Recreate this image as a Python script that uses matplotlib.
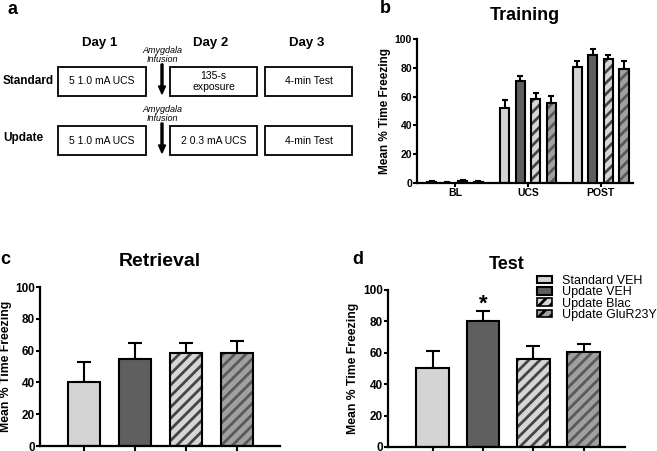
import matplotlib
matplotlib.use("Agg")
from matplotlib import pyplot as plt
from matplotlib.patches import Rectangle, FancyArrow
import numpy as np

plt.rcParams['font.family'] = ['Liberation Sans', 'DejaVu Sans']
plt.rcParams['hatch.linewidth'] = 2.0

groups = ['Standard VEH', 'Update VEH', 'Update Blac', 'Update GluR23Y']
faces = ['#d4d4d4', '#5f5f5f', '#d6d6d6', '#a0a0a0']
hatch_colors = [None, None, '#454545', '#595959']

phases = ['BL', 'UCS', 'POST']
train_mean = [[1.0, 52, 80.8],
              [0.3, 70.8, 88.9],
              [1.3, 58.1, 86.1],
              [0.8, 55.8, 79.4]]
train_err = [[0.6, 5.7, 3.9],
             [0.2, 3.7, 3.9],
             [0.7, 4.2, 2.8],
             [0.4, 4.8, 5.5]]

retrieval_mean = [40.4, 54.5, 58.7, 58.7]
retrieval_err = [12.6, 10.1, 6.3, 7.3]

test_mean = [50.1, 80.3, 56.1, 60.3]
test_err = [11.0, 6.3, 8.4, 5.3]

W, H = 657, 451
fig = plt.figure(figsize=(W / 100, H / 100), dpi=100)


def draw_bars(ax, x, vals, errs, i, width, capsize):
    ax.errorbar(x, vals, yerr=[np.zeros(len(vals)), errs], fmt='none',
                ecolor='black', elinewidth=1.5, capsize=capsize,
                capthick=1.5, zorder=1)
    if hatch_colors[i] is None:
        ax.bar(x, vals, width, color=faces[i], edgecolor='black',
               linewidth=1.5, zorder=2, label=groups[i])
    else:
        ax.bar(x, vals, width, color=faces[i], edgecolor=hatch_colors[i],
               hatch='///', linewidth=0, zorder=2)
        ax.bar(x, vals, width, fill=False, edgecolor='black',
               linewidth=1.5, zorder=3)
        # legend proxy
        ax.bar([np.nan], [np.nan], width, color=faces[i],
               edgecolor='black', hatch='///', linewidth=1.2,
               label=groups[i])


def style(ax, tick_size, label_size, labelpad):
    for s in ['top', 'right']:
        ax.spines[s].set_visible(False)
    for s in ['left', 'bottom']:
        ax.spines[s].set_linewidth(1.6)
    ax.set_ylim(0, 100)
    ax.set_yticks([0, 20, 40, 60, 80, 100])
    ax.tick_params(width=1.5, length=3, labelsize=tick_size, pad=0.8)
    for t in ax.get_yticklabels() + ax.get_xticklabels():
        t.set_fontweight('bold')
    ax.set_ylabel('Mean % Time Freezing', fontsize=label_size,
                  fontweight='bold', labelpad=labelpad)


# panel a: schematic
axa = fig.add_axes([0, 0, 1, 1], zorder=0)
axa.set_xlim(0, W)
axa.set_ylim(H, 0)
axa.axis('off')
axa.text(13, 9, 'a', fontsize=13, fontweight='bold', ha='center', va='center')
for x, lab in [(100, 'Day 1'), (211, 'Day 2'), (307, 'Day 3')]:
    axa.text(x, 43, lab, fontsize=9.5, fontweight='bold', ha='center', va='center')
axa.text(3, 81, 'Standard', fontsize=8.5, fontweight='bold', va='center')
axa.text(3, 138, 'Update', fontsize=8.5, fontweight='bold', va='center')
rows = [(67, ['5 1.0 mA UCS', '135-s\nexposure', '4-min Test']),
        (126, ['5 1.0 mA UCS', '2 0.3 mA UCS', '4-min Test'])]
for y0, labels in rows:
    for (x0, x1), lab in zip([(58, 146), (170, 257), (265, 352)], labels):
        axa.add_patch(Rectangle((x0, y0), x1 - x0, 29, fill=False,
                                edgecolor='black', linewidth=1.3))
        axa.text((x0 + x1) / 2, y0 + 14.5, lab, fontsize=7.5, ha='center',
                 va='center', linespacing=1.1)
    axa.text(162, y0 - 12, 'Amygdala\nInfusion', fontsize=6.5, style='italic',
             ha='center', va='center', linespacing=1.0)
    axa.add_patch(FancyArrow(162, y0 - 3, 0, 30, width=2, head_width=7,
                             head_length=8, length_includes_head=True,
                             color='black'))

# panel b: training
axb = fig.add_axes([0.635, 0.594, 0.328, 0.3195])
gx = np.arange(len(phases))
offs = [-0.32, -0.106, 0.106, 0.32]
for i in range(4):
    draw_bars(axb, gx + offs[i], train_mean[i], train_err[i], i, 0.125, 2.2)
style(axb, 7.5, 8.5, 3)
axb.set_xlim(-0.52, 2.44)
axb.set_xticks(gx)
axb.set_xticklabels(phases, fontweight='bold')
axb.set_title('Training', fontsize=13, fontweight='bold', pad=14)
fig.text(0.586, 0.982, 'b', fontsize=13, fontweight='bold', ha='center', va='center')

# panel c: retrieval
axc = fig.add_axes([0.061, 0.011, 0.365, 0.3526])
bx = np.arange(4)
for i in range(4):
    draw_bars(axc, [bx[i]], [retrieval_mean[i]], [retrieval_err[i]], i, 0.63, 5)
style(axc, 8.5, 8.8, 2)
axc.set_xlim(-0.86, 3.84)
axc.set_xticks(bx)
axc.set_xticklabels([])
axc.tick_params(axis='x', length=5)
axc.set_title('Retrieval', fontsize=14, fontweight='bold', pad=15)
fig.text(0.008, 0.424, 'c', fontsize=13, fontweight='bold', ha='center', va='center')

# panel d: test
axd = fig.add_axes([0.5906, 0.009, 0.3604, 0.348])
for i in range(4):
    draw_bars(axd, [bx[i]], [test_mean[i]], [test_err[i]], i, 0.65, 5)
style(axd, 8.5, 8.8, 3)
axd.set_xlim(-0.89, 3.82)
axd.set_xticks(bx)
axd.set_xticklabels([])
axd.tick_params(axis='x', length=5)
axd.set_title('Test', fontsize=13, fontweight='bold', pad=15)
axd.text(1, test_mean[1] + test_err[1] - 2.3, '*', fontsize=16,
         fontweight='bold', ha='center', va='bottom')
fig.text(0.545, 0.424, 'd', fontsize=13, fontweight='bold', ha='center', va='center')
axd.legend(loc='upper left', bbox_to_anchor=(0.817, 0.39),
           bbox_transform=fig.transFigure, frameon=False, fontsize=9,
           handlelength=1.25, handleheight=0.55, handletextpad=0.75,
           labelspacing=-0.06, borderpad=0, borderaxespad=0)

fig.savefig('out.png', dpi=100)
